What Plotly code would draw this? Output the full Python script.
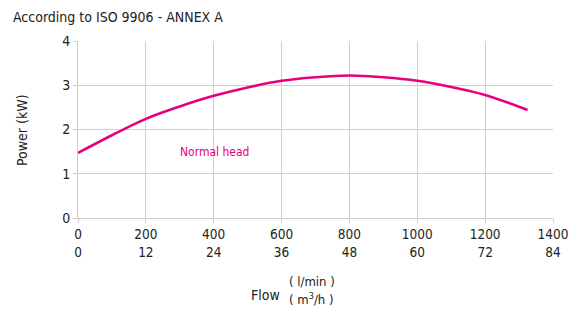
import plotly.graph_objects as go

flow_lpm = [0, 100, 200, 300, 400, 500, 600, 700, 800, 900, 1000, 1100, 1200, 1325]
power_kw = [1.47, 1.87, 2.24, 2.52, 2.76, 2.95, 3.10, 3.18, 3.22, 3.18, 3.10, 2.96, 2.78, 2.44]

x_ticks = [0, 200, 400, 600, 800, 1000, 1200, 1400]
x_ticks_m3h = ["0", "12", "24", "36", "48", "60", "72", "84"]
y_ticks = [0, 1, 2, 3, 4]

FONT = "DejaVu Sans Condensed, Roboto, sans-serif"
PINK = "#E6007E"
GRID = "#cfcfcf"
TXT = "#222"

L, R, T, B = 78, 17, 41, 91
PW, PH = 570 - L - R, 309 - T - B


def px(xp):
    return (xp - L) / PW


def py(yp):
    return (309 - B - yp) / PH


fig = go.Figure()
fig.add_trace(go.Scatter(x=flow_lpm, y=power_kw, mode="lines",
                         line=dict(color=PINK, width=2.6, shape="spline"),
                         showlegend=False, hoverinfo="skip"))

fig.update_layout(
    width=570, height=309,
    margin=dict(l=L, r=R, t=T, b=B, autoexpand=False),
    paper_bgcolor="white", plot_bgcolor="white",
    font=dict(family=FONT, size=14, color=TXT),
    xaxis=dict(range=[0, 1400], tickvals=x_ticks,
               ticktext=[f"{a}<br>{b}" for a, b in zip(x_ticks, x_ticks_m3h)],
               showgrid=True, gridcolor=GRID, gridwidth=1,
               showline=True, linecolor=GRID, linewidth=1,
               ticks="outside", ticklen=4, tickcolor=GRID,
               zeroline=False, automargin=False,
               tickfont=dict(size=13.5, family=FONT, color=TXT)),
    yaxis=dict(range=[0, 4], tickvals=y_ticks,
               showgrid=True, gridcolor=GRID, gridwidth=1,
               showline=True, linecolor=GRID, linewidth=1,
               ticks="outside", ticklen=4, tickcolor=GRID,
               zeroline=False, automargin=False,
               tickfont=dict(size=14, family=FONT, color=TXT)),
    annotations=[
        dict(text="According to ISO 9906 - ANNEX A", xref="paper", yref="paper", x=px(11), y=py(17),
             xanchor="left", yanchor="middle", showarrow=False, font=dict(size=14, family=FONT, color=TXT)),
        dict(text="Power (kW)", xref="paper", yref="paper", x=px(22), y=py(130), textangle=-90,
             xanchor="center", yanchor="middle", showarrow=False, font=dict(size=14, family=FONT, color=TXT)),
        dict(text="Normal head", xref="paper", yref="paper", x=px(214), y=py(152),
             xanchor="center", yanchor="middle", showarrow=False, font=dict(size=12, family=FONT, color=PINK)),
        dict(text="Flow", xref="paper", yref="paper", x=px(265), y=py(295),
             xanchor="center", yanchor="middle", showarrow=False, font=dict(size=14, family=FONT, color=TXT)),
        dict(text="( l/min )", xref="paper", yref="paper", x=px(287), y=py(281),
             xanchor="left", yanchor="middle", showarrow=False, font=dict(size=13, family=FONT, color=TXT)),
        dict(text="( m<sup>3</sup>/h )", xref="paper", yref="paper", x=px(287), y=py(299),
             xanchor="left", yanchor="middle", showarrow=False, font=dict(size=13, family=FONT, color=TXT)),
    ],
)

fig.write_html("out.html", config={"displayModeBar": False},
               post_script="document.body.style.margin='0';")
